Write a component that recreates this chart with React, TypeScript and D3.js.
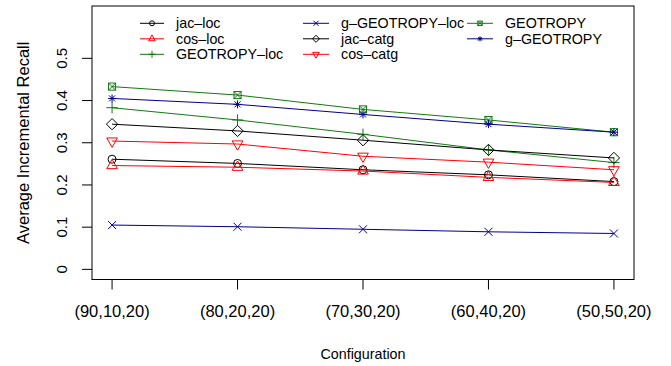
import React from "react";
import * as d3 from "d3";

// Configurations on the x axis
const configurations = ["(90,10,20)", "(80,20,20)", "(70,30,20)", "(60,40,20)", "(50,50,20)"];

// Average incremental recall per method
const jacLoc = [0.261, 0.251, 0.236, 0.224, 0.208];
const cosLoc = [0.246, 0.242, 0.233, 0.218, 0.206];
const geotropyLoc = [0.383, 0.354, 0.32, 0.283, 0.253];
const gGeotropyLoc = [0.105, 0.101, 0.095, 0.089, 0.085];
const jacCatg = [0.344, 0.328, 0.306, 0.283, 0.264];
const cosCatg = [0.304, 0.297, 0.268, 0.254, 0.236];
const geotropy = [0.433, 0.413, 0.379, 0.354, 0.325];
const gGeotropy = [0.405, 0.391, 0.367, 0.344, 0.325];

const yTicks = [0, 0.1, 0.2, 0.3, 0.4, 0.5];

const GREEN = "#117a11";
const BLUE = "#00008B";

type Series = { name: string; values: number[]; color: string; pch: number };

const series: Series[] = [
  { name: "jac\u2013loc", values: jacLoc, color: "#000000", pch: 1 },
  { name: "cos\u2013loc", values: cosLoc, color: "#FF0000", pch: 2 },
  { name: "GEOTROPY\u2013loc", values: geotropyLoc, color: GREEN, pch: 3 },
  { name: "g\u2013GEOTROPY\u2013loc", values: gGeotropyLoc, color: BLUE, pch: 4 },
  { name: "jac\u2013catg", values: jacCatg, color: "#000000", pch: 5 },
  { name: "cos\u2013catg", values: cosCatg, color: "#FF0000", pch: 6 },
  { name: "GEOTROPY", values: geotropy, color: GREEN, pch: 7 },
  { name: "g\u2013GEOTROPY", values: gGeotropy, color: BLUE, pch: 8 },
];

const W = 671;
const H = 366;
const left = 92;
const right = 634;
const top = 6;
const bottom = 279.5;

const FONT = "'Liberation Sans', Arial, Helvetica, sans-serif";

// R-style plotting symbols
function Marker({ x, y, pch, color, r }: { x: number; y: number; pch: number; color: string; r: number }) {
  const common = { fill: "none", stroke: color, strokeWidth: 1 };
  switch (pch) {
    case 1:
      return <circle cx={x} cy={y} r={r} {...common} />;
    case 2: {
      const rr = 1.55 * r, xc = 1.342 * r, yc = 0.775 * r;
      return <polygon points={`${x},${y - rr} ${x + xc},${y + yc} ${x - xc},${y + yc}`} {...common} />;
    }
    case 6: {
      const rr = 1.55 * r, xc = 1.342 * r, yc = 0.775 * r;
      return <polygon points={`${x},${y + rr} ${x + xc},${y - yc} ${x - xc},${y - yc}`} {...common} />;
    }
    case 3: {
      const a = Math.SQRT2 * r;
      return <path d={`M${x - a},${y}H${x + a}M${x},${y - a}V${y + a}`} {...common} />;
    }
    case 4: {
      return <path d={`M${x - r},${y - r}L${x + r},${y + r}M${x - r},${y + r}L${x + r},${y - r}`} {...common} />;
    }
    case 5: {
      const a = Math.SQRT2 * r;
      return <polygon points={`${x},${y - a} ${x + a},${y} ${x},${y + a} ${x - a},${y}`} {...common} />;
    }
    case 7: {
      const a = 0.886 * r;
      return (
        <g>
          <rect x={x - a} y={y - a} width={2 * a} height={2 * a} {...common} />
          <path d={`M${x - a},${y - a}L${x + a},${y + a}M${x - a},${y + a}L${x + a},${y - a}`} {...common} />
        </g>
      );
    }
    case 8: {
      const a = r;
      const b = 0.75 * r;
      return (
        <path
          d={`M${x - a},${y}H${x + a}M${x},${y - a}V${y + a}M${x - b},${y - b}L${x + b},${y + b}M${x - b},${y + b}L${x + b},${y - b}`}
          {...common}
        />
      );
    }
    default:
      return null;
  }
}

export default function App() {
  const x = d3.scaleLinear().domain([1 - 0.16, 5 + 0.16]).range([left, right]);
  const y = d3.scaleLinear().domain([-0.024, 0.624]).range([bottom, top]);
  const line = d3
    .line<number>()
    .x((_, i) => x(i + 1))
    .y((v) => y(v));

  const legendCols = [
    { lx1: 140, lx2: 164, tx: 176 },
    { lx1: 303, lx2: 329, tx: 341 },
    { lx1: 467, lx2: 493, tx: 505 },
  ];
  const legendRows = [23.3, 38.8, 54.3];

  return (
    <svg
      width={W}
      height={H}
      style={{ position: "absolute", left: 0, top: 0, background: "#fff" }}
      fontFamily={FONT}
    >
      <rect x={0} y={0} width={W} height={H} fill="#fff" />

      {/* series lines and symbols */}
      {series.map((s) => (
        <g key={s.name}>
          <path d={line(s.values) || ""} fill="none" stroke={s.color} strokeWidth={1} />
          {s.values.map((v, i) => (
            <Marker key={i} x={x(i + 1)} y={y(v)} pch={s.pch} color={s.color} r={4} />
          ))}
        </g>
      ))}

      {/* plot box */}
      <rect x={left} y={top} width={right - left} height={bottom - top} fill="none" stroke="#000" strokeWidth={1} />

      {/* x axis */}
      {configurations.map((c, i) => (
        <g key={c}>
          <line x1={x(i + 1)} x2={x(i + 1)} y1={bottom} y2={bottom + 10} stroke="#000" />
          <text x={x(i + 1)} y={317} textAnchor="middle" fontSize={16.5} fill="#000">
            {c}
          </text>
        </g>
      ))}
      <text x={(left + right) / 2} y={359} textAnchor="middle" fontSize={14.3} fill="#000">
        Configuration
      </text>

      {/* y axis */}
      {yTicks.map((t) => (
        <g key={t}>
          <line x1={left - 10} x2={left} y1={y(t)} y2={y(t)} stroke="#000" />
          <text
            transform={`translate(67,${y(t)}) rotate(-90)`}
            textAnchor="middle"
            fontSize={15}
            fill="#000"
          >
            {String(t)}
          </text>
        </g>
      ))}
      <text
        transform={`translate(29,${(top + bottom) / 2}) rotate(-90)`}
        textAnchor="middle"
        fontSize={16.5}
        fill="#000"
      >
        Average Incremental Recall
      </text>

      {/* legend, filled column by column */}
      {series.map((s, i) => {
        const col = legendCols[Math.floor(i / 3)];
        const ry = legendRows[i % 3];
        return (
          <g key={"lg" + s.name}>
            <line x1={col.lx1} x2={col.lx2} y1={ry} y2={ry} stroke={s.color} strokeWidth={1} />
            <Marker x={(col.lx1 + col.lx2) / 2} y={ry} pch={s.pch} color={s.color} r={2.5} />
            <text x={col.tx} y={ry + 5} fontSize={14.3} fill="#000">
              {s.name}
            </text>
          </g>
        );
      })}
    </svg>
  );
}
